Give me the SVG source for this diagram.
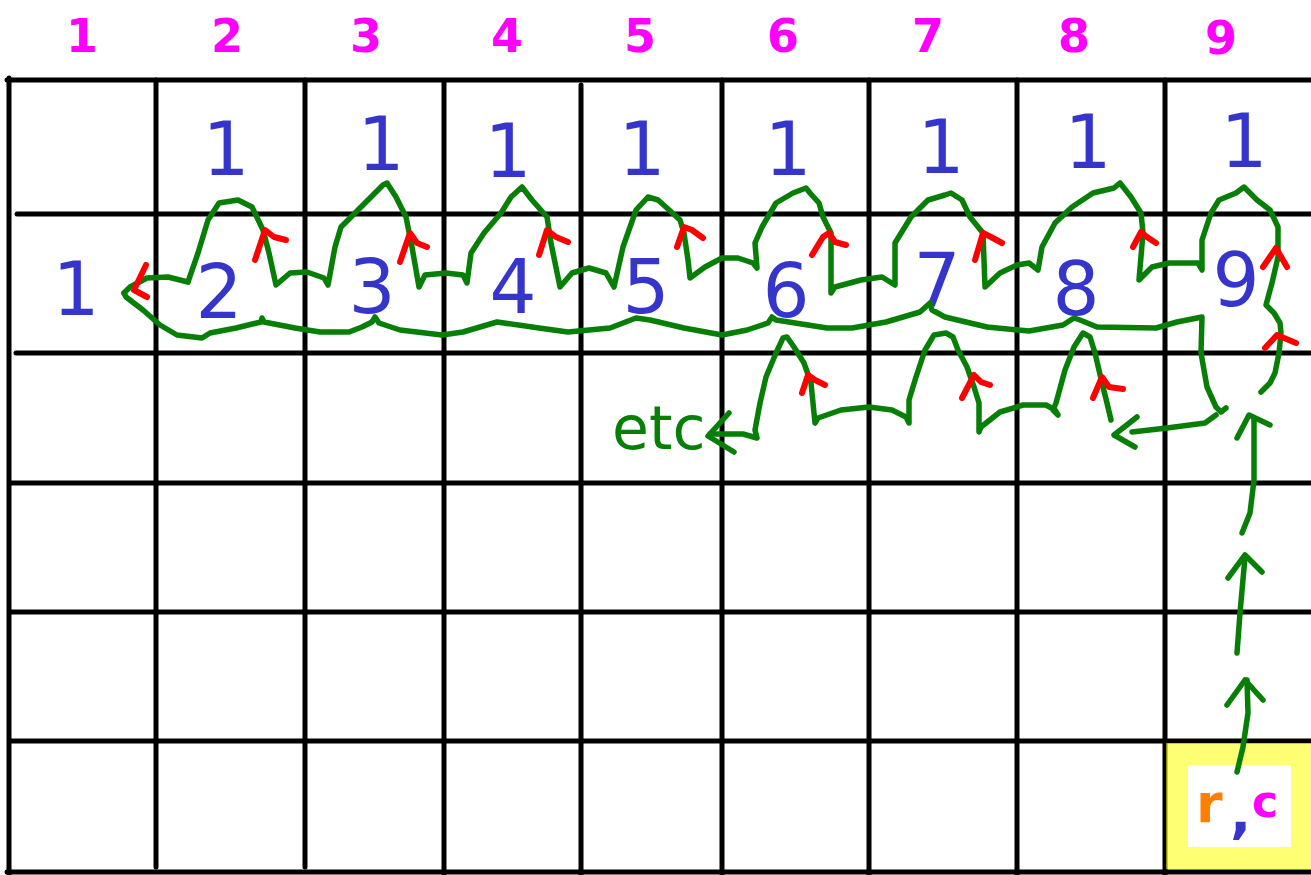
<svg xmlns="http://www.w3.org/2000/svg" width="1311" height="875" viewBox="0 0 1311 875">
<style>
.grid line{stroke:#000;stroke-width:5;stroke-linecap:round}
.g{fill:none;stroke:#077f07;stroke-width:5.5;stroke-linejoin:round;stroke-linecap:round}
.r{fill:none;stroke:#ff0000;stroke-width:6;stroke-linejoin:round;stroke-linecap:round}
.hd{font-family:"DejaVu Sans",sans-serif;font-size:46px;font-weight:bold;fill:#ff00ff;text-anchor:middle}
.bl{font-family:"DejaVu Sans",sans-serif;font-size:74px;fill:#3535cc;text-anchor:middle}
.etc{font-family:"DejaVu Sans",sans-serif;font-size:60px;fill:#077f07}
</style>
<rect width="1311" height="875" fill="#fff"/>
<g id="grid" class="grid">
<line x1="9" y1="78" x2="9" y2="875"/>
<line x1="156" y1="80" x2="156" y2="867"/>
<line x1="305" y1="80" x2="305" y2="867"/>
<line x1="444" y1="82" x2="444" y2="875"/>
<line x1="581" y1="85" x2="581" y2="875"/>
<line x1="722" y1="80" x2="722" y2="875"/>
<line x1="869" y1="80" x2="869" y2="875"/>
<line x1="1017" y1="80" x2="1017" y2="875"/>
<line x1="1165" y1="80" x2="1165" y2="875"/>
<line x1="7" y1="80" x2="1311" y2="80"/>
<line x1="17" y1="214" x2="1311" y2="214"/>
<line x1="16" y1="353" x2="1311" y2="353"/>
<line x1="10" y1="483" x2="1311" y2="483"/>
<line x1="10" y1="612" x2="1311" y2="612"/>
<line x1="10" y1="741" x2="1311" y2="741"/>
<line x1="7" y1="872" x2="1311" y2="872"/>
</g>
<g id="highlight">
<rect x="1177" y="754" width="125" height="104" fill="none" stroke="#ffff00" stroke-opacity="0.55" stroke-width="22"/>
</g>
<g id="headers">
<text class="hd" x="82" y="52">1</text>
<text class="hd" x="227" y="52">2</text>
<text class="hd" x="366" y="52">3</text>
<text class="hd" x="507" y="52">4</text>
<text class="hd" x="640" y="52">5</text>
<text class="hd" x="783" y="52">6</text>
<text class="hd" x="928" y="52">7</text>
<text class="hd" x="1074" y="52">8</text>
<text class="hd" x="1221" y="54">9</text>
</g>
<g id="row2">
<g id="r2c2"><text class="bl" x="226" y="175">1</text></g>
<g id="r2c3"><text class="bl" x="381" y="170">1</text></g>
<g id="r2c4"><text class="bl" x="508" y="177">1</text></g>
<g id="r2c5"><text class="bl" x="642" y="175">1</text></g>
<g id="r2c6"><text class="bl" x="788" y="175">1</text></g>
<g id="r2c7"><text class="bl" x="941" y="173">1</text></g>
<g id="r2c8"><text class="bl" x="1088" y="168">1</text></g>
<g id="r2c9"><text class="bl" x="1244" y="167">1</text></g>
</g>
<g id="row3">
<g id="r3c1"><text class="bl" x="76" y="315">1</text></g>
<g id="r3c2"><text class="bl" x="219" y="318">2</text></g>
<g id="r3c3"><text class="bl" x="372" y="313">3</text></g>
<g id="r3c4"><text class="bl" x="513" y="313">4</text></g>
<g id="r3c5"><text class="bl" x="646" y="313">5</text></g>
<g id="r3c6"><text class="bl" x="786" y="317">6</text></g>
<g id="r3c7"><text class="bl" x="937" y="306">7</text></g>
<g id="r3c8"><text class="bl" x="1076" y="315">8</text></g>
<g id="r3c9"><text class="bl" x="1236" y="306">9</text></g>
</g>
<g id="etc"><text class="etc" x="612" y="449">etc</text></g>
<g id="start">
<text font-family="DejaVu Sans,sans-serif" font-size="54" font-weight="bold" fill="#ff8000" x="1196" y="822">r</text>
<text font-family="DejaVu Sans,sans-serif" font-size="56" font-weight="bold" fill="#3535cc" x="1230" y="832">,</text>
<text font-family="DejaVu Sans,sans-serif" font-size="44" font-weight="bold" fill="#ff00ff" x="1252" y="817">c</text>
</g>
<g id="connectors">
<polyline class="g" points="188,282 168,277 147,278 130,287 124,293"/>
<polyline class="g" points="188,282 198,253 208,220 219,203 238,200 252,207 263,230 269,253 276,285 290,273 307,272 324,278 328,285 335,247 341,227 358,210 375,193 383,185 387,183 396,197 406,217 412,247 419,287 425,275 446,273 463,275 467,283 471,253 484,233 501,213 511,197 522,187 532,200 547,217 551,243 560,287 572,273 589,268 606,273 614,287 623,247 636,210 648,197 658,200 667,208 680,220 684,233 688,260 690,278 705,267 722,258 738,258 753,263 757,268 755,243 762,227 776,203 793,193 806,188 810,193 819,203 823,217 831,233 831,293 835,287 861,280 882,277 895,285 895,243 911,217 928,200 945,195 951,193 962,200 970,217 983,233 985,287 1000,273 1017,265 1029,263 1038,270 1042,247 1055,223 1072,207 1093,193 1114,188 1120,183 1131,197 1141,213 1143,233 1139,280 1152,267 1169,263 1198,263 1202,270 1202,240 1211,213 1219,200 1236,193 1244,187 1257,200 1270,210 1278,227 1278,257 1272,283 1266,305 1274,313 1280,323 1281,333 1279,353 1275,373 1270,383 1261,392"/>
<polyline class="g" points="124,293 126,297 143,310 160,325 177,335 202,338 210,333 236,328 261,322 262,318 264,322 295,328 320,332 349,332 362,327 372,322 375,317 379,323 400,330 442,335 463,332 497,322 539,328 568,332 610,328 636,318 650,320 684,328 722,335 747,330 768,323 772,317 776,320 827,328 852,328 886,322 920,312 930,303 932,310 945,317 987,327 1029,331 1063,325 1074,318 1080,320 1097,327 1156,328 1177,322 1202,317 1201,353 1207,387 1216,407 1221,412 1226,408"/>
<polyline class="g" points="1216,415 1205,423 1167,428 1132,432"/>
<polyline class="g" points="1137,417 1114,435 1135,447"/>
<polyline class="g" points="1111,420 1107,403 1102,383 1095,353 1090,337 1083,333 1074,347 1065,370 1056,403 1053,410 1058,415 1055,410 1046,405 1023,405 1000,412 981,427 979,432 979,403 974,387 967,367 958,350 953,337 946,333 934,335 925,350 916,377 909,400 909,423 906,417 892,410 869,407 841,410 818,418 815,423 813,403 811,383 804,363 794,347 787,337 783,338 776,353 766,377 760,403 755,430 757,438 743,434 710,434"/>
<polyline class="g" points="729,413 708,436 734,452"/>
<polyline class="g" points="1254,418 1254,480 1250,513 1242,533"/>
<polyline class="g" points="1237,438 1249,415 1270,425"/>
<polyline class="g" points="1245,557 1240,613 1237,653"/>
<polyline class="g" points="1228,578 1245,555 1262,572"/>
<polyline class="g" points="1247,680 1248,713 1243,747 1237,772"/>
<polyline class="g" points="1227,705 1245,680 1263,700"/>
<polyline class="r" points="146,265 134,290 147,297"/>
<polyline class="r" points="255,260 265,230 274,237 286,240"/>
<polyline class="r" points="400,262 410,233 417,243 427,247"/>
<polyline class="r" points="539,255 547,230 556,237 568,242"/>
<polyline class="r" points="677,247 684,227 692,230 703,238"/>
<polyline class="r" points="812,255 823,237 829,233 835,242 846,245"/>
<polyline class="r" points="975,260 983,233 991,237 1002,243"/>
<polyline class="r" points="1133,247 1141,232 1147,237 1156,243"/>
<polyline class="r" points="1263,267 1276,248 1287,267"/>
<polyline class="r" points="1265,348 1277,335 1284,338 1296,343"/>
<polyline class="r" points="802,393 808,375 815,380 825,385"/>
<polyline class="r" points="962,398 974,375 981,382 990,385"/>
<polyline class="r" points="1093,398 1102,377 1109,387 1123,389"/>
</g>
</svg>
